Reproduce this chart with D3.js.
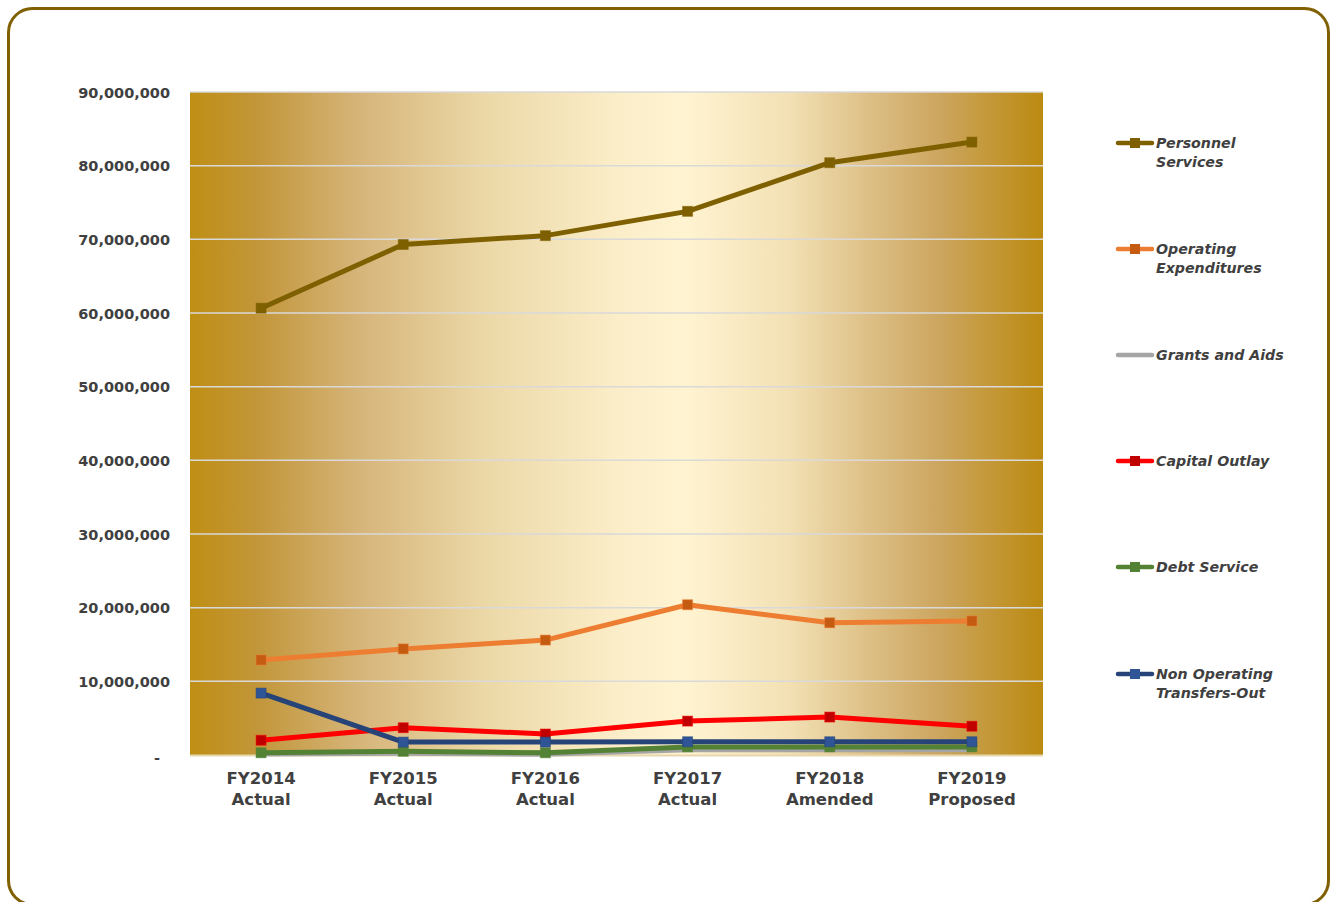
<!DOCTYPE html>
<html>
<head>
<meta charset="utf-8">
<script src="https://cdn.jsdelivr.net/npm/d3@7"></script>
<style>
  html, body { margin: 0; padding: 0; background: #fff; }
  svg { display: block; }
</style>
</head>
<body>
<svg id="chart" width="1331" height="902"></svg>
<script>
// Budget by expenditure category, FY2014 – FY2019
const categories = [
  ["FY2014", "Actual"],
  ["FY2015", "Actual"],
  ["FY2016", "Actual"],
  ["FY2017", "Actual"],
  ["FY2018", "Amended"],
  ["FY2019", "Proposed"]
];
const personnelServices   = [60650000, 69300000, 70500000, 73800000, 80400000, 83200000];
const operatingExpend     = [12900000, 14400000, 15600000, 20400000, 17950000, 18200000];
const grantsAndAids       = [150000, 250000, 100000, 700000, 700000, 700000];
const capitalOutlay       = [2000000, 3700000, 2850000, 4600000, 5150000, 3900000];
const debtService         = [300000, 500000, 300000, 1100000, 1100000, 1100000];
const nonOperatingTransfers = [8400000, 1750000, 1750000, 1800000, 1800000, 1800000];
const yTicks = [0, 10000000, 20000000, 30000000, 40000000, 50000000, 60000000, 70000000, 80000000, 90000000];

const series = [
  { name: ["Personnel", "Services"], values: personnelServices, line: "#7F6000", marker: "#7F6000" },
  { name: ["Operating", "Expenditures"], values: operatingExpend, line: "#ED7D31", marker: "#C55A11" },
  { name: ["Grants and Aids"], values: grantsAndAids, line: "#A5A5A5", marker: null },
  { name: ["Capital Outlay"], values: capitalOutlay, line: "#FF0000", marker: "#C00000" },
  { name: ["Debt Service"], values: debtService, line: "#548235", marker: "#548235" },
  { name: ["Non Operating", "Transfers-Out"], values: nonOperatingTransfers, line: "#264478", marker: "#2F5597" }
];
// drawing order: later series on top
const drawOrder = [2, 4, 3, 1, 0, 5];

const svg = d3.select("#chart");
const font = "'Verdana', 'DejaVu Sans', sans-serif";
const textColor = "#404040";

// outer frame
svg.append("rect")
  .attr("x", 8.5).attr("y", 8.5)
  .attr("width", 1320).attr("height", 896)
  .attr("rx", 24).attr("ry", 24)
  .attr("fill", "#fff")
  .attr("stroke", "#806000")
  .attr("stroke-width", 3);

const plot = { left: 190, right: 1043, top: 92, bottom: 755 };

const x = d3.scaleBand()
  .domain(d3.range(categories.length))
  .range([plot.left, plot.right]);

const y = d3.scaleLinear()
  .domain([0, 90000000])
  .range([plot.bottom, plot.top]);

// plot background gradient
const defs = svg.append("defs");
const grad = defs.append("linearGradient")
  .attr("id", "plotBg")
  .attr("x1", "0%").attr("x2", "100%").attr("y1", "0%").attr("y2", "0%");
[
  [0.00, "#BF8F14"],
  [0.08, "#C2963A"],
  [0.20, "#D6B57A"],
  [0.35, "#ECD9A8"],
  [0.50, "#FBEDC8"],
  [0.58, "#FFF3D1"],
  [0.70, "#F3E1B5"],
  [0.80, "#DCBE84"],
  [0.88, "#CCA55E"],
  [1.00, "#BB8A10"]
].forEach(([o, c]) => grad.append("stop").attr("offset", o).attr("stop-color", c));

svg.append("rect")
  .attr("x", plot.left).attr("y", plot.top)
  .attr("width", plot.right - plot.left)
  .attr("height", plot.bottom - plot.top)
  .attr("fill", "url(#plotBg)");

// horizontal gridlines
svg.append("g")
  .selectAll("line")
  .data(yTicks.filter(d => d > 0))
  .join("line")
  .attr("x1", plot.left).attr("x2", plot.right)
  .attr("y1", d => y(d)).attr("y2", d => y(d))
  .attr("stroke", "#D9D9D9")
  .attr("stroke-width", 1.5);

// baseline
svg.append("line")
  .attr("x1", plot.left).attr("x2", plot.right)
  .attr("y1", y(0) + 0.5).attr("y2", y(0) + 0.5)
  .attr("stroke", "#E6D7AE").attr("stroke-width", 2);

// y axis
const yAxis = d3.axisLeft(y)
  .tickValues(yTicks)
  .tickSize(0)
  .tickPadding(0)
  .tickFormat(d => d === 0 ? "-" : d3.format(",")(d));
const yg = svg.append("g")
  .attr("transform", `translate(${plot.left - 20},0)`)
  .call(yAxis);
yg.select(".domain").remove();
yg.selectAll("text")
  .attr("font-family", font)
  .attr("font-size", 14.5)
  .attr("font-weight", "bold")
  .attr("fill", textColor)
  .attr("dy", "0.35em");
yg.selectAll(".tick").filter(d => d === 0).select("text")
  .attr("transform", "translate(-10,2)");

// x axis
const xAxis = d3.axisBottom(x).tickSize(0).tickFormat("");
const xg = svg.append("g")
  .attr("transform", `translate(0,${plot.bottom})`)
  .call(xAxis);
xg.select(".domain").remove();
xg.selectAll(".tick").each(function(i) {
  const t = d3.select(this).append("text")
    .attr("text-anchor", "middle")
    .attr("font-family", font)
    .attr("font-size", 16.5)
    .attr("font-weight", "bold")
    .attr("fill", textColor);
  categories[i].forEach((s, k) => {
    t.append("tspan").attr("x", 0).attr("y", 29 + k * 21).text(s);
  });
});

// lines + markers
const cx = i => x(i) + x.bandwidth() / 2;
const lineGen = d3.line().x((d, i) => cx(i)).y(d => y(d));

drawOrder.forEach(si => {
  const s = series[si];
  const g = svg.append("g");
  g.append("path")
    .datum(s.values)
    .attr("d", lineGen)
    .attr("fill", "none")
    .attr("stroke", s.line)
    .attr("stroke-width", 5)
    .attr("stroke-linejoin", "round")
    .attr("stroke-linecap", "round");
  if (s.marker) {
    g.selectAll("rect")
      .data(s.values)
      .join("rect")
      .attr("x", (d, i) => cx(i) - 5)
      .attr("y", d => y(d) - 5)
      .attr("width", 10).attr("height", 10)
      .attr("fill", s.marker)
      .attr("stroke", s.line)
      .attr("stroke-opacity", 0.5)
      .attr("stroke-width", 1);
  }
});

// legend (each entry positioned at the centre of its first text line)
const legendY = [143, 249, 355, 461, 567, 674];
const lg = svg.append("g");
series.forEach((s, i) => {
  const g = lg.append("g").attr("transform", `translate(1116,${legendY[i]})`);
  g.append("line")
    .attr("x1", 2).attr("x2", 36)
    .attr("y1", 0).attr("y2", 0)
    .attr("stroke", s.line)
    .attr("stroke-width", 4.5)
    .attr("stroke-linecap", "round");
  if (s.marker) {
    g.append("rect")
      .attr("x", 14).attr("y", -5)
      .attr("width", 10).attr("height", 10)
      .attr("fill", s.marker);
  }
  const t = g.append("text")
    .attr("font-family", font)
    .attr("font-size", 14.2)
    .attr("font-style", "italic")
    .attr("font-weight", "bold")
    .attr("fill", textColor);
  s.name.forEach((n, k) => {
    t.append("tspan").attr("x", 40).attr("y", 5 + k * 19).text(n);
  });
});
</script>
</body>
</html>
